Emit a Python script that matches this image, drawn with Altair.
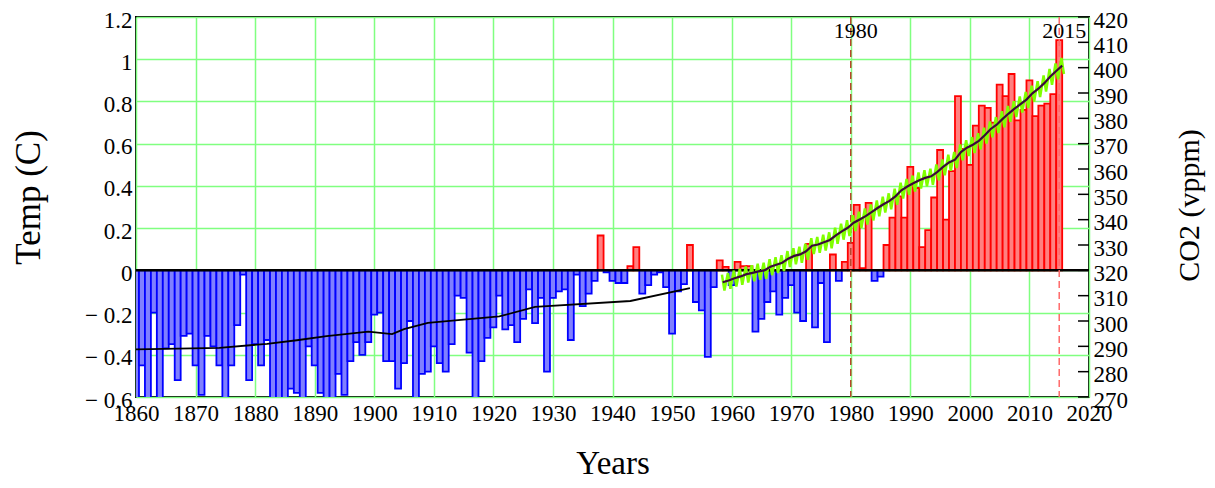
import altair as alt
import pandas as pd

# ---------------- data ----------------
years = list(range(1860, 2016))
temp = [
    -0.62, -0.45, -0.65, -0.20, -0.65, -0.37, -0.35, -0.52, -0.31, -0.30,   # 1860s
    -0.45, -0.59, -0.31, -0.36, -0.45, -0.65, -0.45, -0.26, -0.02, -0.52,   # 1870s
    -0.35, -0.45, -0.33, -0.62, -0.65, -0.65, -0.56, -0.58, -0.65, -0.36,   # 1880s
    -0.45, -0.58, -0.65, -0.63, -0.49, -0.59, -0.43, -0.34, -0.40, -0.34,   # 1890s
    -0.21, -0.20, -0.43, -0.43, -0.56, -0.44, -0.24, -0.65, -0.49, -0.48,   # 1900s
    -0.36, -0.44, -0.48, -0.35, -0.12, -0.13, -0.39, -0.65, -0.43, -0.32,   # 1910s
    -0.27, -0.12, -0.28, -0.26, -0.34, -0.23, -0.09, -0.25, -0.13, -0.48,   # 1920s
    -0.13, -0.10, -0.09, -0.33, -0.02, -0.17, -0.11, -0.05, 0.165, -0.01,   # 1930s
    -0.05, -0.06, -0.06, 0.02, 0.11, -0.11, -0.07, -0.02, -0.01, -0.08,     # 1940s
    -0.30, -0.10, -0.065, 0.12, -0.15, -0.19, -0.41, -0.08, 0.047, 0.016,   # 1950s
    -0.07, 0.04, 0.02, 0.02, -0.29, -0.23, -0.15, -0.10, -0.21, -0.13,      # 1960s
    -0.07, -0.20, -0.24, 0.125, -0.27, -0.06, -0.34, 0.075, -0.05, 0.04,    # 1970s
    0.13, 0.31, 0.01, 0.32, -0.05, -0.03, 0.12, 0.25, 0.35, 0.25,           # 1980s
    0.49, 0.39, 0.11, 0.19, 0.345, 0.57, 0.24, 0.47, 0.825, 0.575,          # 1990s
    0.50, 0.685, 0.78, 0.77, 0.70, 0.88, 0.825, 0.93, 0.71, 0.76,           # 2000s
    0.90, 0.73, 0.78, 0.79, 0.835, 1.09,                                    # 2010-2015
]

ice_years = [1860, 1874, 1882, 1887, 1892, 1899, 1903, 1905, 1909, 1921, 1927, 1943, 1953]
ice_co2 = [288.8, 289.4, 291.0, 292.4, 294.0, 295.8, 294.8, 296.8, 299.3, 301.8, 305.6, 307.9, 313.0]

mlo_years = list(range(1958, 2016))
mlo_annual = [
    315.3, 316.0, 316.9, 317.6, 318.5, 319.0, 319.6, 320.0, 321.4, 322.2,
    323.0, 324.6, 325.7, 326.3, 327.5, 329.7, 330.2, 331.1, 332.0, 333.8,
    335.4, 336.8, 338.8, 340.1, 341.4, 343.0, 344.6, 346.1, 347.4, 349.2,
    351.6, 353.1, 354.4, 355.6, 356.5, 357.1, 358.8, 360.8, 362.6, 363.7,
    366.7, 368.4, 369.6, 371.1, 373.3, 375.8, 377.5, 379.8, 381.9, 383.8,
    385.6, 387.4, 389.9, 391.7, 393.9, 396.5, 398.7, 400.8,
]
mlo_peak = [
    318.3, 319.0, 319.9, 320.6, 321.5, 322.0, 322.6, 323.0, 324.4, 325.2,
    326.0, 327.6, 328.7, 329.3, 330.5, 332.7, 333.2, 334.1, 335.0, 336.8,
    338.4, 339.8, 341.8, 343.1, 344.4, 346.0, 347.6, 349.1, 350.4, 352.2,
    354.6, 356.1, 357.4, 358.6, 359.5, 360.1, 361.8, 363.8, 365.6, 366.7,
    369.7, 371.4, 372.6, 374.1, 376.3, 378.8, 380.5, 382.8, 384.9, 386.8,
    388.6, 390.4, 392.9, 394.7, 396.9, 399.5, 401.7, 403.8,
]
mlo_trough = [
    312.0, 312.7, 313.6, 314.3, 315.2, 315.7, 316.3, 316.7, 318.1, 318.9,
    319.7, 321.3, 322.4, 323.0, 324.2, 326.4, 326.9, 327.8, 328.7, 330.5,
    332.1, 333.5, 335.5, 336.8, 338.1, 339.7, 341.3, 342.8, 344.1, 345.9,
    348.3, 349.8, 351.1, 352.3, 353.2, 353.8, 355.5, 357.5, 359.3, 360.4,
    363.4, 365.1, 366.3, 367.8, 370.0, 372.5, 374.2, 376.5, 378.6, 380.5,
    382.3, 384.1, 386.6, 388.4, 390.6, 393.2, 395.4, 397.5,
]
peak_month = 5
trough_month = 10

x_ticks = list(range(1860, 2021, 10))
temp_ticks = [-0.6, -0.4, -0.2, 0, 0.2, 0.4, 0.6, 0.8, 1.0, 1.2]
co2_ticks = list(range(270, 421, 10))
marker_years = [1980, 2015]
marker_labels = ["1980", "2015"]

# ---------------- tables ----------------
bars_df = pd.DataFrame({"year": years, "temp": temp})
bars_df["sign"] = ["pos" if v >= 0 else "neg" for v in temp]
zero_df = pd.DataFrame({"temp": [0]})
marker_df = pd.DataFrame({"year": marker_years, "label": marker_labels})
ice_df = pd.DataFrame({"t": ice_years, "co2": ice_co2})
mlo_df = pd.DataFrame({"t": [y + 0.5 for y in mlo_years], "co2": mlo_annual})
green_rows = []
for y, p, tr in zip(mlo_years, mlo_peak, mlo_trough):
    green_rows.append({"t": y + (peak_month - 0.5) / 12, "co2": p})
    green_rows.append({"t": y + (trough_month - 0.5) / 12, "co2": tr})
green_df = pd.DataFrame(green_rows)
co2_tick_df = pd.DataFrame({"co2": co2_ticks})

# ---------------- styling ----------------
W, H = 953, 380
FONT = "Liberation Serif"
GRID = "#80ff80"

x_scale = alt.Scale(domain=[1860, 2020], nice=False, zero=False)
t_scale = alt.Scale(domain=[-0.6, 1.2], nice=False, zero=False)
c_scale = alt.Scale(domain=[270, 420], nice=False, zero=False)

x_axis = alt.Axis(
    values=x_ticks, format="d", title="Years", ticks=False, domain=False,
    grid=True, gridColor=GRID, gridWidth=1.5, gridOpacity=1,
    labelFlush=False, labelOverlap=False, labelPadding=5,
    labelFont=FONT, labelFontSize=23, labelColor="black",
    titleFont=FONT, titleFontSize=33, titleFontWeight="normal", titleColor="black",
    titleY=76, titleBaseline="alphabetic",
)
t_axis = alt.Axis(
    values=temp_ticks, title="Temp (C)", ticks=False, domain=False,
    grid=True, gridColor=GRID, gridWidth=1.5, gridOpacity=1,
    labelFlush=False, labelOverlap=False, labelPadding=4, labelOffset=3,
    labelExpr="datum.value < 0 ? '\u2212 ' + format(-datum.value, '~g') : format(datum.value, '~g')",
    labelFont=FONT, labelFontSize=23, labelColor="black",
    titleFont=FONT, titleFontSize=35, titleFontWeight="normal", titleColor="black",
    titleAngle=270, titleX=-108, titleY=180, titleAlign="center", titleBaseline="middle",
)
c_axis = alt.Axis(
    orient="right", values=co2_ticks, format="d", title="CO2 (vppm)",
    ticks=False, domain=False, grid=False,
    labelFlush=False, labelOverlap=False, labelPadding=4, labelOffset=3,
    labelFont=FONT, labelFontSize=23, labelColor="black",
    titleFont=FONT, titleFontSize=30, titleFontWeight="normal", titleColor="black",
    titleAngle=270, titleX=100, titleY=188, titleAlign="center", titleBaseline="middle",
)

# ---------------- temperature layers ----------------
bars = alt.Chart(bars_df).transform_calculate(
    x0="datum.year - 0.5", x1="datum.year + 0.5"
).mark_bar(clip=True, strokeWidth=1.8).encode(
    x=alt.X("x0:Q", scale=x_scale, axis=x_axis),
    x2="x1:Q",
    y=alt.Y("temp:Q", scale=t_scale, axis=t_axis),
    y2=alt.datum(0),
    fill=alt.Fill("sign:N", scale=alt.Scale(domain=["neg", "pos"], range=["#8080ff", "#ff8080"]), legend=None),
    stroke=alt.Stroke("sign:N", scale=alt.Scale(domain=["neg", "pos"], range=["#0000ff", "#ff0000"]), legend=None),
)

zero_line = alt.Chart(zero_df).mark_rule(color="black", strokeWidth=2.5).encode(
    y=alt.Y("temp:Q", scale=t_scale, axis=t_axis),
)

markers = alt.Chart(marker_df).mark_rule(strokeWidth=1.5, strokeDash=[7, 4]).encode(
    x=alt.X("year:Q", scale=x_scale, axis=x_axis),
    color=alt.Color("label:N", scale=alt.Scale(domain=marker_labels, range=["#b8452c", "#ff6a6a"]), legend=None),
)

marker_text = alt.Chart(marker_df).mark_text(
    font=FONT, fontSize=22, color="black", align="left", baseline="alphabetic", dx=-17
).encode(
    x=alt.X("year:Q", scale=x_scale, axis=x_axis),
    y=alt.value(21),
    text="label:N",
)

temp_layer = alt.layer(bars, zero_line, markers, marker_text)

# ---------------- CO2 layers ----------------
green = alt.Chart(green_df).mark_line(color="#80ff00", strokeWidth=2.5).encode(
    x=alt.X("t:Q", scale=x_scale, axis=x_axis),
    y=alt.Y("co2:Q", scale=c_scale, axis=c_axis),
    order="t:Q",
)
mlo_line = alt.Chart(mlo_df).mark_line(color="#3a0a3a", strokeWidth=2.2).encode(
    x=alt.X("t:Q", scale=x_scale, axis=x_axis),
    y=alt.Y("co2:Q", scale=c_scale, axis=c_axis),
)
ice_line = alt.Chart(ice_df).mark_line(color="black", strokeWidth=1.8).encode(
    x=alt.X("t:Q", scale=x_scale, axis=x_axis),
    y=alt.Y("co2:Q", scale=c_scale, axis=c_axis),
)
co2_ticks_marks = alt.Chart(co2_tick_df).mark_rule(color="black", strokeWidth=1.5).encode(
    x=alt.value(W - 11),
    x2=alt.value(W),
    y=alt.Y("co2:Q", scale=c_scale, axis=c_axis),
)

co2_layer = alt.layer(green, mlo_line, ice_line, co2_ticks_marks)

chart = alt.layer(temp_layer, co2_layer).resolve_scale(y="independent").properties(
    width=W, height=H,
    autosize=alt.AutoSizeParams(type="none"),
    padding={"left": 128, "top": 9, "right": 118, "bottom": 83},
    background="white",
).configure_view(stroke="black", strokeWidth=2)

chart.save("out.html", embed_options={"renderer": "svg", "actions": False})
